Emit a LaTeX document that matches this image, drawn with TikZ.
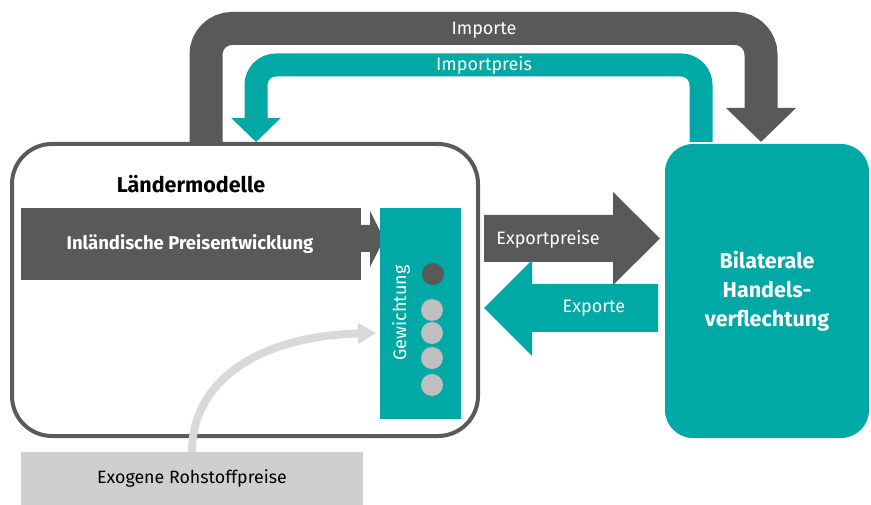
\documentclass[tikz,border=0pt]{standalone}
\usepackage{fontspec}
\setmainfont{Fira Sans}
\usepackage{xcolor}
\usetikzlibrary{positioning,arrows.meta}
\definecolor{darkgrey}{HTML}{595959}
\definecolor{boxgrey}{HTML}{5A5A5A}
\definecolor{tealfill}{HTML}{00A9A5}
\definecolor{curvegrey}{HTML}{D9D9D9}
\definecolor{rawgrey}{HTML}{D0CECE}
\definecolor{dotgrey}{HTML}{BFBFBF}

\tikzset{
  whitetxt/.style={text=white, inner sep=0pt, font=\fontsize{18}{21}\selectfont},
  boldtxt/.style={inner sep=0pt, font=\fontsize{21.5}{29}\selectfont\bfseries, align=center},
  dot/.style={circle, inner sep=0pt, minimum size=22pt},
}

\begin{document}
\begin{tikzpicture}[x=1pt, y=-1pt]
    \useasboundingbox (0,0) rectangle (871,505);

    % boxes
    \node[draw=boxgrey, line width=4pt, rounded corners=40pt, minimum width=466pt, minimum height=292pt, inner sep=0pt] (land) at (245,290) {};
    \node[fill=tealfill, rounded corners=28pt, minimum width=204pt, minimum height=294pt, inner sep=0pt] (bil) at (767,291) {};
    \node[fill=rawgrey, minimum width=342pt, minimum height=53pt, inner sep=0pt] (exo) at (192,478.5) {};

    % arrows on top
    \coordinate (impstart) at (206,143);
    \coordinate (impend) at (761,142);
    \coordinate (prstart) at (701,142);
    \coordinate (prend) at (256,142);
    \draw[darkgrey, line width=33pt, rounded corners=26pt, -{Triangle[width=68pt,length=34pt]}]
        (impstart) -- (206,28.5) -- (761,28.5) -- (impend);
    \draw[tealfill, line width=23pt, rounded corners=20pt, -{Triangle[width=48pt,length=24pt]}]
        (prstart) -- (701,65) -- (256,65) -- (prend);
    \node[whitetxt] (importe) at (484,30) {Importe};
    \node[whitetxt] (importpreis) at (484,65) {Importpreis};

    % inland development
    \fill[darkgrey] (21,208) rectangle (361,280);
    \fill[darkgrey] (360,225) -- (370,225) -- (370,211) -- (384,239) -- (370,267) -- (370,252) -- (360,252) -- cycle;
    \node[whitetxt, font=\fontsize{18.5}{21}\selectfont\bfseries] (inland) at (190,244) {Inländische Preisentwicklung};
    \node[boldtxt, text=black] (title) at (191,184) {Ländermodelle};

    % weighting
    \node[fill=tealfill, minimum width=81pt, minimum height=211pt, inner sep=0pt] (gew) at (420.5,313.5) {};
    \node[whitetxt, rotate=90] (gewtxt) at (401,313) {Gewichtung};
    \node[dot, fill=darkgrey] (d0) at (433,274) {};
    \foreach \y [count=\i] in {310,333,358,385}
        \node[dot, fill=dotgrey] (d\i) at (432,\y) {};

    % trade arrows
    \fill[darkgrey] (484,215) -- (613,215) -- (613,192) -- (660,238.5) -- (613,285) -- (613,262) -- (484,262) -- cycle;
    \fill[tealfill] (658,284) -- (532,284) -- (532,260) -- (484,308) -- (532,356) -- (532,332) -- (658,332) -- cycle;
    \node[whitetxt] (exppreis) at (548,239) {Exportpreise};
    \node[whitetxt] (exporte) at (594,308) {Exporte};

    \node[boldtxt, text=white] (biltxt) at (bil) {Bilaterale\\Handels-\\verflechtung};

    % raw material prices
    \coordinate (rawend) at (376,333);
    \draw[curvegrey, line width=8pt, -{Triangle[width=20pt,length=18pt]}]
        (exo.north) .. controls (192,380) and (260,336) .. (rawend);
    \node[inner sep=0pt, font=\fontsize{17.8}{21}\selectfont] (exotxt) at (exo) {Exogene Rohstoffpreise};
\end{tikzpicture}
\end{document}
